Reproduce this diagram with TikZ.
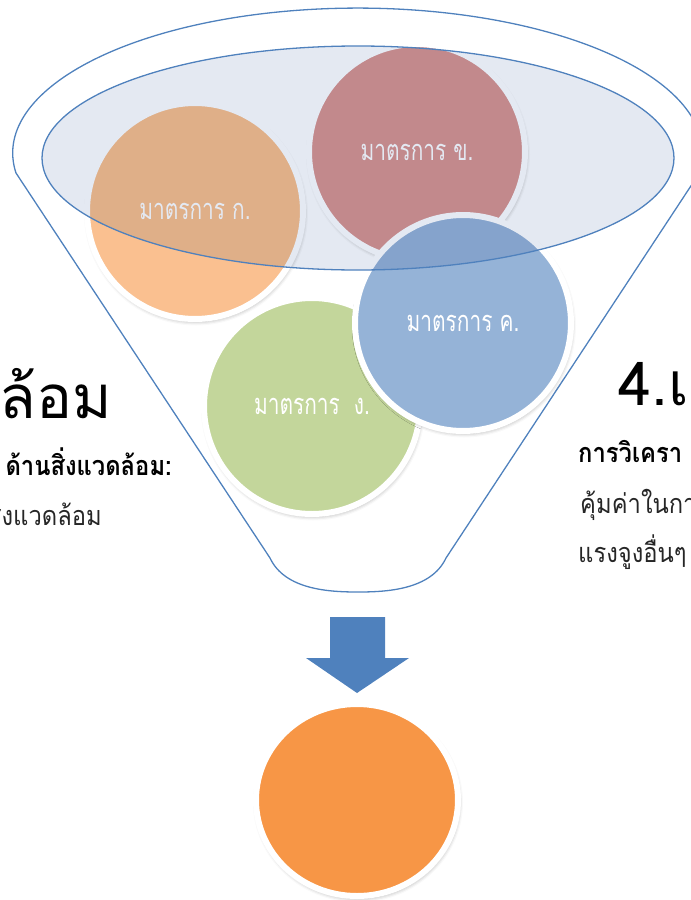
\documentclass[tikz,border=0pt]{standalone}
\usepackage{fontspec}
\newfontfamily\thai[Script=Thai]{Loma}
\newfontfamily\thaisub[Script=Thai,FakeStretch=0.88]{Loma}
\newfontfamily\thaicond[Script=Thai,FakeStretch=0.72]{Loma}
\usetikzlibrary{shapes.geometric,shadows.blur}
\definecolor{funnelblue}{HTML}{4F81BD}
\definecolor{cOrange}{HTML}{FAC090}
\definecolor{cRose}{HTML}{D99694}
\definecolor{cBlue}{HTML}{95B3D7}
\definecolor{cGreen}{HTML}{C3D69B}
\definecolor{cOverlay}{HTML}{E4E9F2}
\definecolor{cResult}{HTML}{F79646}
\definecolor{cText}{HTML}{262626}
\tikzset{
  bubble/.style={circle, draw=white, line width=6pt, minimum size=216pt, inner sep=0pt,
    text=white, font=\thaicond\fontsize{29}{29}\selectfont,
    blur shadow={shadow xshift=1pt, shadow yshift=-2.5pt, shadow blur radius=4pt, shadow opacity=35}},
  outline/.style={draw=funnelblue, line width=1.3pt},
  heading/.style={font=\thai\fontsize{60}{60}\selectfont, inner sep=0pt},
  subbold/.style={font=\thaisub\bfseries\fontsize{27}{27}\selectfont, inner sep=0pt},
  subreg/.style={font=\thaisub\fontsize{27}{27}\selectfont, inner sep=0pt, text=cText},
}
\begin{document}
\begin{tikzpicture}[x=1pt,y=1pt]
\useasboundingbox (0,0) rectangle (691,-900);
% funnel outline
\draw[outline, line join=round] (16,-173) arc[start angle=187.9, end angle=-7.9, x radius=345pt, y radius=145pt]
  -- (446,-558) .. controls (431,-590) and (386,-592) .. (358,-592)
  .. controls (330,-592) and (285,-590) .. (270,-558) -- cycle;
% bubbles
\node[bubble, fill=cOrange] (ka) at (195,-211) {มาตรการ ก.};
\node[bubble, fill=cRose] (kho) at (417,-152) {มาตรการ ข.};
\node[bubble, fill=cGreen] (ngo) at (312,-406) {มาตรการ\ \ ง.};
\node[bubble, fill=cBlue] (kho2) at (463,-323) {มาตรการ ค.};
% overlay ellipse
\begin{scope}[blend mode=multiply]
  \fill[cOverlay] (358,-158) ellipse[x radius=316pt, y radius=112pt];
\end{scope}
\draw[outline] (358,-158) ellipse[x radius=316pt, y radius=112pt];
% arrow
\fill[funnelblue] (330,-617) -- (385,-617) -- (385,-658) -- (409,-658) -- (357,-693)
  -- (306,-658) -- (330,-658) -- cycle;
% result
\node[ellipse, draw=white, line width=6pt, fill=cResult, minimum width=202pt, minimum height=192pt,
  blur shadow={shadow xshift=1pt, shadow yshift=-2.5pt, shadow blur radius=4pt, shadow opacity=35}] (res) at (357,-800) {};
% left texts
\node[heading, anchor=base east] (lt1) at (112,-418) {ล้อม};
\node[subbold, anchor=base east] (lt2) at (172,-475) {ด้านสิ่งแวดล้อม:};
\node[subreg, anchor=base east] (lt3) at (102,-525) {สิ่งแวดล้อม};
% right texts
\node[heading, anchor=base west] (rt1) at (618,-405) {4.เ};
\node[subbold, anchor=base west] (rt2) at (578,-462) {การวิเครา};
\node[subreg, anchor=base west] (rt3) at (580,-513) {คุ้มค่าในกา};
\node[subreg, anchor=base west] (rt4) at (578,-562) {แรงจูงอื่นๆ};
\end{tikzpicture}
\end{document}
